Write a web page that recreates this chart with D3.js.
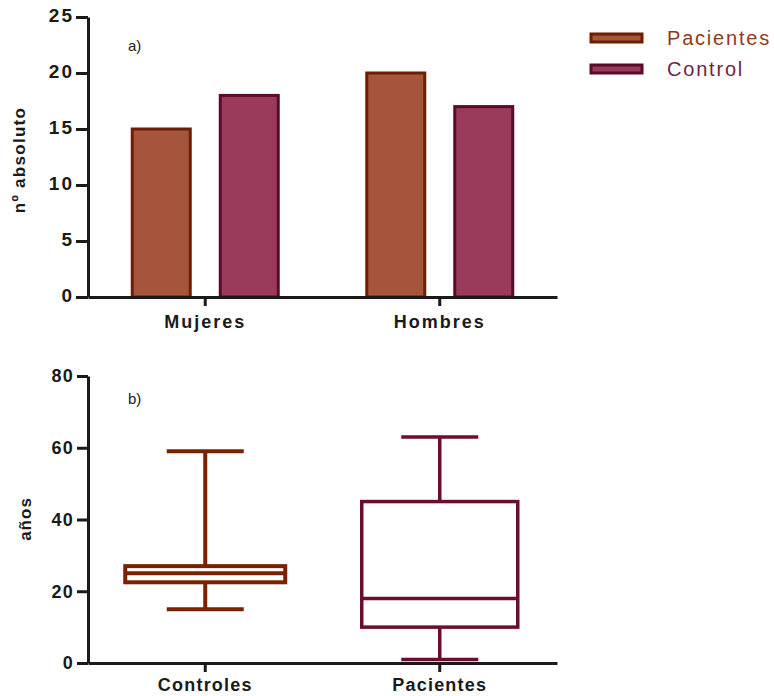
<!DOCTYPE html>
<html><head><meta charset="utf-8">
<script src="https://cdn.jsdelivr.net/npm/d3@7"></script>
<style>body{margin:0;background:#fff}svg{display:block;font-family:"Liberation Sans",Arial,sans-serif}</style>
</head><body><svg id="c" width="774" height="696"></svg>
<script>
// ---- data ----
const barCategories = ["Mujeres", "Hombres"];
const barSeries = ["Pacientes", "Control"];
const pacientesValues = [15, 20];
const controlValues = [18, 17];
const barTicks = [0, 5, 10, 15, 20, 25];

const boxCategories = ["Controles", "Pacientes"];
const boxMin = [15, 1];
const boxQ1 = [22.5, 10];
const boxMedian = [25, 18];
const boxQ3 = [27, 45];
const boxMax = [59, 63];
const boxTicks = [0, 20, 40, 60, 80];

const barFill = {Pacientes: "#a4553b", Control: "#9c3a5b"};
const barStroke = {Pacientes: "#6e1f00", Control: "#5a0a2c"};
const legendText = {Pacientes: "#8e3a1c", Control: "#6e1f45"};
const boxStroke = ["#7a2200", "#6a0d33"];

const svg = d3.select("#c");
const axisColor = "#1a1a1a";

// ---- top bar chart ----
const xA = d3.scaleBand().domain(barCategories).range([88, 557]);
const yA = d3.scaleLinear().domain([0, 25]).range([297, 17]);
const xS = d3.scalePoint().domain(barSeries).range([-44, 44]);

const gA = svg.append("g");
barCategories.forEach((c, i) => {
  const vals = {Pacientes: pacientesValues[i], Control: controlValues[i]};
  barSeries.forEach(s => {
    const cx = xA(c) + xA.bandwidth() / 2 + xS(s);
    const w = 58;
    gA.append("rect")
      .attr("x", cx - w / 2).attr("y", yA(vals[s]))
      .attr("width", w).attr("height", yA(0) - yA(vals[s]))
      .attr("fill", barFill[s]).attr("stroke", barStroke[s]).attr("stroke-width", 3);
  });
});

function styleAxis(g, size, spacing) {
  g.select(".domain").attr("stroke", axisColor).attr("stroke-width", 3);
  g.selectAll(".tick line").attr("stroke", axisColor).attr("stroke-width", 3);
  g.selectAll(".tick text").attr("fill", axisColor).attr("font-weight", "bold")
    .attr("font-size", size).attr("letter-spacing", spacing);
}

const yAxA = svg.append("g").attr("transform", "translate(88,0)")
  .call(d3.axisLeft(yA).tickValues(barTicks).tickSize(12).tickSizeOuter(0).tickPadding(2));
styleAxis(yAxA, 19, 2);
yAxA.selectAll(".tick text").attr("dy", "0.25em");
const xAxA = svg.append("g").attr("transform", "translate(0,297)")
  .call(d3.axisBottom(xA).tickSize(9).tickSizeOuter(0).tickPadding(9));
styleAxis(xAxA, 18, 2);

svg.append("text").attr("transform", "translate(25,160) rotate(-90)")
  .attr("text-anchor", "middle").attr("font-weight", "bold").attr("font-size", 17)
  .attr("letter-spacing", 1.3).attr("fill", axisColor).text("nº absoluto");
svg.append("text").attr("x", 128).attr("y", 51).attr("font-size", 15).attr("fill", axisColor).text("a)");

// legend
barSeries.forEach((s, i) => {
  const y = 38 + i * 31;
  svg.append("rect").attr("x", 591).attr("y", y - 4).attr("width", 51).attr("height", 8)
    .attr("fill", barFill[s]).attr("stroke", barStroke[s]).attr("stroke-width", 3);
  svg.append("text").attr("x", 667).attr("y", y + 7).attr("font-size", 20)
    .attr("letter-spacing", 1.8).attr("fill", legendText[s]).text(s);
});

// ---- bottom box plot ----
const xB = d3.scaleBand().domain(boxCategories).range([88, 557]);
const yB = d3.scaleLinear().domain([0, 80]).range([663, 376]);

const boxW = [160, 156];
const capW = 77;
boxCategories.forEach((c, i) => {
  const cx = xB(c) + xB.bandwidth() / 2;
  const g = svg.append("g").attr("stroke", boxStroke[i]).attr("fill", "none")
    .attr("stroke-width", i === 0 ? 4 : 3.5);
  g.append("line").attr("x1", cx).attr("x2", cx).attr("y1", yB(boxMax[i])).attr("y2", yB(boxQ3[i]));
  g.append("line").attr("x1", cx).attr("x2", cx).attr("y1", yB(boxQ1[i])).attr("y2", yB(boxMin[i]));
  g.append("line").attr("x1", cx - capW / 2).attr("x2", cx + capW / 2).attr("y1", yB(boxMax[i])).attr("y2", yB(boxMax[i]));
  g.append("line").attr("x1", cx - capW / 2).attr("x2", cx + capW / 2).attr("y1", yB(boxMin[i])).attr("y2", yB(boxMin[i]));
  g.append("rect").attr("x", cx - boxW[i] / 2).attr("y", yB(boxQ3[i]))
    .attr("width", boxW[i]).attr("height", yB(boxQ1[i]) - yB(boxQ3[i]));
  g.append("line").attr("x1", cx - boxW[i] / 2).attr("x2", cx + boxW[i] / 2)
    .attr("y1", yB(boxMedian[i])).attr("y2", yB(boxMedian[i]));
});

const yAxB = svg.append("g").attr("transform", "translate(88,0)")
  .call(d3.axisLeft(yB).tickValues(boxTicks).tickSize(11).tickSizeOuter(0).tickPadding(3));
styleAxis(yAxB, 18, 1.2);
const xAxB = svg.append("g").attr("transform", "translate(0,663)")
  .call(d3.axisBottom(xB).tickSize(9).tickSizeOuter(0).tickPadding(6));
styleAxis(xAxB, 18, 1.2);
xAxB.lower();

svg.append("text").attr("transform", "translate(31,519) rotate(-90)")
  .attr("text-anchor", "middle").attr("font-weight", "bold").attr("font-size", 17)
  .attr("letter-spacing", 1).attr("fill", axisColor).text("años");
svg.append("text").attr("x", 128).attr("y", 404).attr("font-size", 15).attr("fill", axisColor).text("b)");
</script></body></html>
